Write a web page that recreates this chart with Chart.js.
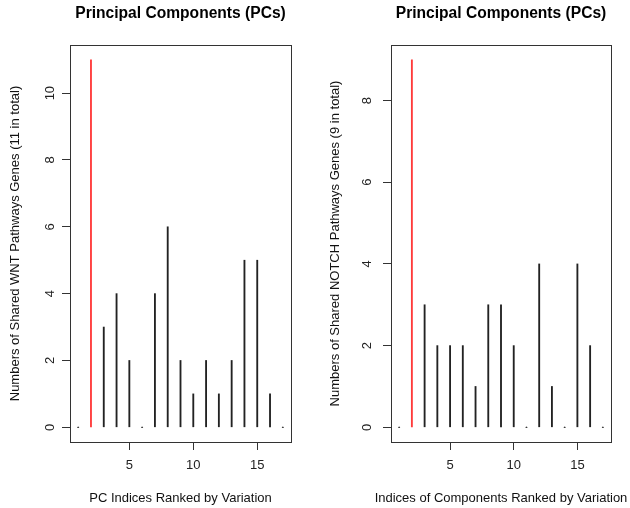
<!DOCTYPE html>
<html>
<head>
<meta charset="utf-8">
<script src="https://cdn.jsdelivr.net/npm/chart.js@4/dist/chart.umd.min.js"></script>
<style>
    body { margin: 0; background: #fff; }
    .panel { position: absolute; top: 0; }
</style>
</head>
<body>
<canvas id="wntChart" class="panel" width="315" height="508" style="left:0"></canvas>
<canvas id="notchChart" class="panel" width="315" height="508" style="left:315px"></canvas>
<script>
// PC index on the x axis
const pcIndex = [1, 2, 3, 4, 5, 6, 7, 8, 9, 10, 11, 12, 13, 14, 15, 16, 17];

// shared genes per PC
const wntCounts = [0, 11, 3, 4, 2, 0, 4, 6, 2, 1, 2, 1, 2, 5, 5, 1, 0];
const notchCounts = [0, 9, 3, 2, 2, 2, 1, 3, 3, 2, 0, 4, 1, 0, 4, 2, 0];

// tick labels
const xTicks = [5, 10, 15];
const wntYTicks = [0, 2, 4, 6, 8, 10];
const notchYTicks = [0, 2, 4, 6, 8];

const FONT = "'Liberation Sans', Arial, Helvetica, sans-serif";
const INK = '#222';
const RED = '#ff3b3b';

// draws the closed box round the plot region, like R's box()
const framePlugin = {
    id: 'frame',
    afterDraw(chart) {
        const { ctx, chartArea: a } = chart;
        ctx.save();
        ctx.strokeStyle = '#333';
        ctx.lineWidth = 1;
        ctx.strokeRect(Math.round(a.left) + 0.5, Math.round(a.top) + 0.5,
            Math.round(a.width), Math.round(a.height));
        ctx.restore();
    }
};

// x axis title, centred on the plot box; allowed to run wider than the box
const xLabelPlugin = {
    id: 'xLabel',
    afterDraw(chart, args, opts) {
        const { ctx, chartArea: a } = chart;
        ctx.save();
        ctx.fillStyle = '#111';
        ctx.font = '13px ' + FONT;
        ctx.textAlign = 'center';
        ctx.textBaseline = 'middle';
        ctx.fillText(opts.text, (a.left + a.right) / 2, opts.y);
        ctx.restore();
    }
};

function makePanel(canvasId, counts, yTicks, yTitle, xTitle, frame) {
    const ctx = document.getElementById(canvasId).getContext('2d');
    const top = Math.max(...counts);
    const xSpan = pcIndex[pcIndex.length - 1] - pcIndex[0];

    return new Chart(ctx, {
        type: 'scatter',
        data: {
            datasets: [{
                type: 'bar',
                data: pcIndex.map((x, i) => ({ x: x, y: counts[i] })),
                backgroundColor: (c) => (c.raw && c.raw.y === top ? RED : INK),
                barThickness: (c) => (c.raw && c.raw.y === top ? 1.6 : 1.2),
                borderWidth: 0
            }, {
                // zero-height spikes show up as a dot
                type: 'scatter',
                data: pcIndex.filter((x, i) => counts[i] === 0).map(x => ({ x: x, y: 0 })),
                pointRadius: 0.8,
                pointBackgroundColor: '#555',
                pointBorderWidth: 0
            }]
        },
        options: {
            responsive: false,
            animation: false,
            devicePixelRatio: 1,
            layout: {
                padding: { left: 0, right: frame.right, top: 0, bottom: 0 }
            },
            plugins: {
                legend: { display: false },
                tooltip: { enabled: false },
                title: {
                    display: true,
                    text: 'Principal Components (PCs)',
                    fullSize: false,
                    color: '#000',
                    font: { family: FONT, size: 15.6, weight: 'bold' },
                    padding: { top: 4.6, bottom: 21.7 }
                },
                xLabel: { text: xTitle, y: 498 }
            },
            scales: {
                x: {
                    type: 'linear',
                    offset: false,
                    min: pcIndex[0] - 0.04 * xSpan,
                    max: pcIndex[pcIndex.length - 1] + 0.04 * xSpan,
                    afterBuildTicks: (scale) => { scale.ticks = xTicks.map(v => ({ value: v })); },
                    afterFit: (scale) => { scale.height = 66; },
                    grid: {
                        offset: false,
                        drawOnChartArea: false,
                        drawTicks: true,
                        tickLength: 8,
                        tickColor: '#333',
                        tickWidth: 1
                    },
                    border: { display: false },
                    ticks: {
                        autoSkip: false,
                        maxRotation: 0,
                        padding: 7.9,
                        color: INK,
                        font: { family: FONT, size: 13 }
                    }
                },
                y: {
                    type: 'linear',
                    min: -0.04 * top,
                    max: top * 1.04,
                    afterBuildTicks: (scale) => { scale.ticks = yTicks.map(v => ({ value: v })); },
                    afterFit: (scale) => { scale.width = frame.left; },
                    grid: {
                        drawOnChartArea: false,
                        drawTicks: true,
                        tickLength: 8,
                        tickColor: '#333',
                        tickWidth: 1
                    },
                    border: { display: false },
                    ticks: {
                        autoSkip: false,
                        minRotation: 90,
                        maxRotation: 90,
                        crossAlign: 'center',
                        padding: frame.tickPad,
                        color: INK,
                        font: { family: FONT, size: 13 }
                    },
                    title: {
                        display: true,
                        text: yTitle,
                        color: '#111',
                        font: { family: FONT, size: 13 },
                        padding: { top: frame.titlePad, bottom: 0 }
                    }
                }
            }
        },
        plugins: [framePlugin, xLabelPlugin]
    });
}

makePanel('wntChart', wntCounts, wntYTicks,
    'Numbers of Shared WNT Pathways Genes (11 in total)',
    'PC Indices Ranked by Variation',
    { left: 70, right: 24, tickPad: 4.8, titlePad: 7.2 });

makePanel('notchChart', notchCounts, notchYTicks,
    'Numbers of Shared NOTCH Pathways Genes (9 in total)',
    'Indices of Components Ranked by Variation',
    { left: 76, right: 19, tickPad: 12.4, titlePad: 12.2 });
</script>
</body>
</html>
